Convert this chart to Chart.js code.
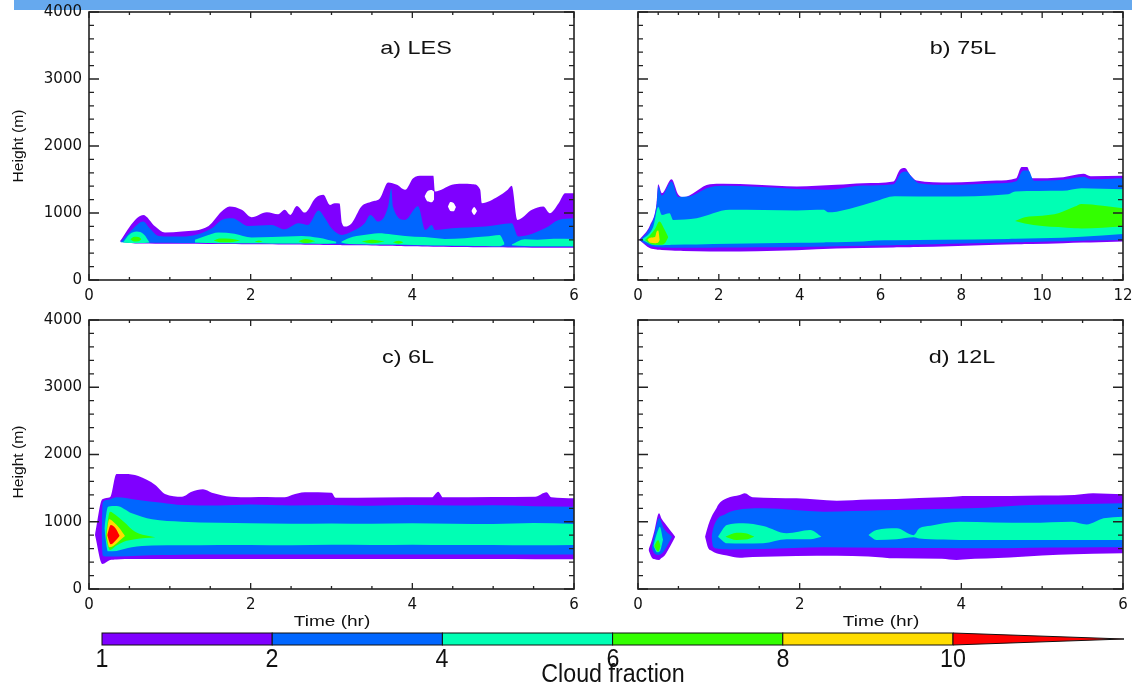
<!DOCTYPE html>
<html>
<head>
<meta charset="utf-8">
<script src="https://cdn.jsdelivr.net/npm/chart.js@4.4.1/dist/chart.umd.min.js"></script>
<style>
  html, body { margin: 0; padding: 0; background: #fff; overflow: hidden; }
  #page { position: relative; width: 1138px; height: 683px; font-family: "Liberation Sans", Arial, sans-serif; color: #111; }
  #topbar { position: absolute; left: 14px; top: 0; width: 1118px; height: 10px; background: #66a9ee; }
  canvas { position: absolute; }
  .txt { position: absolute; white-space: nowrap; line-height: 1; }
  .title { font-size: 18px; transform: translate(-50%, -50%) scaleX(1.3); }
  .ylab { font-size: 14px; transform: translate(-50%, -50%) rotate(-90deg) scaleX(1.12); }
  .xlab { font-size: 15px; transform: translate(-50%, -50%) scaleX(1.27); }
  .cblab { font-size: 25px; transform: translate(-50%, -50%) scaleX(0.93); }
  #cbar { position: absolute; left: 0; top: 0; }
</style>
</head>
<body>
<div id="page">
  <div id="topbar"></div>
  <canvas id="lesChart" width="600" height="310" style="left:0;top:0"></canvas>
  <canvas id="l75Chart" width="590" height="310" style="left:549px;top:0"></canvas>
  <canvas id="l6Chart" width="600" height="311" style="left:0;top:308px"></canvas>
  <canvas id="l12Chart" width="590" height="311" style="left:549px;top:308px"></canvas>
  <svg id="cbar" width="1138" height="683"></svg>
  <div class="txt title" style="left:416px;top:48px">a) LES</div>
  <div class="txt title" style="left:963px;top:48px">b) 75L</div>
  <div class="txt title" style="left:408px;top:357px">c) 6L</div>
  <div class="txt title" style="left:962px;top:357px">d) 12L</div>
  <div class="txt ylab" style="left:18px;top:146px">Height (m)</div>
  <div class="txt ylab" style="left:18px;top:462px">Height (m)</div>
  <div class="txt xlab" style="left:332px;top:620px">Time (hr)</div>
  <div class="txt xlab" style="left:881px;top:620px">Time (hr)</div>
  <div id="cblabels"></div>
  <div class="txt cblab" style="left:613px;top:673px">Cloud fraction</div>
</div>
<script>
// contour level colours (cloud fraction 1, 2, 4, 6, 8, 10)
var PURPLE = '#7f00ff', BLUE = '#0066ff', CYAN = '#00ffb4', GREEN = '#33ff00', YELLOW = '#ffdd00', RED = '#ff0000';

var cbLevels = [1, 2, 4, 6, 8, 10];
var cbColors = [PURPLE, BLUE, CYAN, GREEN, YELLOW, RED];

// ---------- a) LES : time (hr), upper / lower contour heights (m) ----------
var lesPurpleT = [0.38, 0.57, 0.67, 0.82, 0.94, 1.15, 1.48, 1.64, 1.74, 1.89, 2.01, 2.20, 2.34, 2.42, 2.49, 2.57, 2.67, 2.80, 2.90, 2.98, 3.04, 3.10, 3.13, 3.17, 3.25, 3.37, 3.50, 3.60, 3.70, 3.81, 3.91, 4.01, 4.12, 4.26, 4.28, 4.49, 4.61, 4.75, 4.84, 4.86, 5.06, 5.18, 5.23, 5.30, 5.48, 5.62, 5.70, 5.81, 5.89, 6.0];
var lesPurpleTop = [573, 897, 972, 797, 708, 723, 807, 1021, 1096, 1047, 937, 1012, 982, 1047, 972, 1106, 1006, 1221, 1271, 1121, 1146, 1140, 847, 797, 847, 1096, 1171, 1221, 1455, 1420, 1346, 1520, 1555, 1555, 1320, 1420, 1435, 1430, 1346, 1146, 1246, 1346, 1405, 897, 1047, 1096, 997, 1146, 1296, 1296];
var lesPurpleBot = [573, 545, 543, 542, 541, 540, 538, 537, 536, 535, 534, 532, 531, 530, 529, 528, 527, 525, 524, 523, 522, 521, 520, 520, 519, 517, 515, 513, 510, 508, 505, 502, 500, 497, 497, 494, 492, 490, 489, 489, 487, 486, 485, 484, 483, 482, 482, 481, 481, 480];

var lesHole1T = [4.15, 4.19, 4.24, 4.27], lesHole1Top = [1250, 1330, 1345, 1320], lesHole1Bot = [1250, 1170, 1160, 1200];
var lesHole2T = [4.44, 4.47, 4.51, 4.54], lesHole2Top = [1095, 1165, 1150, 1090], lesHole2Bot = [1095, 1030, 1025, 1090];
var lesHole3T = [4.73, 4.765, 4.80], lesHole3Top = [1030, 1090, 1030], lesHole3Bot = [1030, 970, 1030];

var lesBlueT = [0.39, 0.53, 0.67, 0.75, 0.86, 1.15, 1.52, 1.64, 1.77, 1.97, 2.26, 2.42, 2.59, 2.71, 2.84, 2.92, 3.00, 3.13, 3.25, 3.41, 3.48, 3.58, 3.70, 3.74, 3.76, 3.91, 4.07, 4.16, 4.24, 4.28, 4.49, 4.90, 5.23, 5.31, 5.64, 5.81, 6.0];
var lesBlueTop = [565, 747, 872, 772, 658, 648, 772, 897, 922, 807, 822, 757, 847, 822, 1036, 922, 772, 673, 723, 847, 972, 872, 1096, 1371, 1096, 897, 1100, 747, 822, 747, 772, 797, 847, 648, 772, 897, 922];
var lesBlueBot = [565, 558, 557, 556, 555, 554, 552, 551, 550, 548, 546, 545, 543, 542, 540, 539, 538, 535, 534, 531, 530, 528, 525, 524, 524, 520, 516, 514, 512, 511, 508, 503, 499, 498, 497, 496, 495];

var lesCyan1T = [0.42, 0.50, 0.59, 0.68, 0.75], lesCyan1Top = [560, 680, 723, 680, 560], lesCyan1Bot = [560, 552, 550, 552, 560];
var lesCyan2T = [1.31, 1.45, 1.60, 1.80, 2.01, 2.26, 2.45, 2.63, 2.84, 3.06];
var lesCyan2Top = [600, 660, 708, 690, 633, 640, 650, 658, 630, 570];
var lesCyan2Bot = [560, 552, 550, 550, 548, 546, 545, 543, 541, 550];
var lesCyan3T = [3.12, 3.22, 3.40, 3.58, 3.75, 3.91, 4.15, 4.40, 4.65, 4.90, 5.08, 5.14];
var lesCyan3Top = [570, 628, 670, 698, 680, 658, 640, 613, 625, 648, 673, 550];
var lesCyan3Bot = [560, 538, 535, 530, 528, 525, 520, 516, 512, 508, 505, 530];
var lesCyan4T = [5.23, 5.39, 5.55, 5.75, 6.0], lesCyan4Top = [530, 608, 600, 615, 613], lesCyan4Bot = [520, 508, 505, 504, 503];

var lesGreen1T = [0.51, 0.56, 0.61, 0.65], lesGreen1Top = [610, 645, 640, 610], lesGreen1Bot = [610, 575, 578, 610];
var lesGreen2T = [1.54, 1.62, 1.75, 1.87], lesGreen2Top = [590, 620, 615, 590], lesGreen2Bot = [590, 565, 565, 590];
var lesGreen3T = [2.05, 2.10, 2.15], lesGreen3Top = [575, 590, 575], lesGreen3Bot = [575, 562, 575];
var lesGreen4T = [2.59, 2.68, 2.80], lesGreen4Top = [580, 613, 580], lesGreen4Bot = [580, 552, 580];
var lesGreen5T = [3.37, 3.50, 3.66], lesGreen5Top = [575, 600, 575], lesGreen5Bot = [575, 548, 575];
var lesGreen6T = [3.76, 3.83, 3.89], lesGreen6Top = [565, 585, 565], lesGreen6Bot = [565, 542, 565];

// ---------- b) 75L ----------
var l75PurpleT = [0.03, 0.30, 0.46, 0.50, 0.59, 0.83, 1.00, 1.12, 1.78, 2.11, 2.94, 3.93, 4.91, 5.57, 6.32, 6.48, 6.60, 6.73, 6.89, 7.72, 8.87, 9.36, 9.49, 9.63, 9.74, 10.52, 11.02, 11.20, 12.0];
var l75PurpleTop = [598, 822, 1146, 1430, 1296, 1505, 1271, 1236, 1430, 1435, 1420, 1395, 1420, 1445, 1470, 1645, 1670, 1570, 1485, 1455, 1485, 1520, 1685, 1685, 1520, 1535, 1585, 1550, 1555];
var l75PurpleBot = [598, 474, 455, 450, 448, 440, 435, 432, 426, 424, 430, 445, 470, 478, 485, 487, 488, 490, 492, 505, 525, 532, 534, 536, 538, 550, 558, 561, 573];

var l75BlueT = [0.05, 0.30, 0.46, 0.50, 0.59, 0.83, 1.00, 1.24, 1.78, 2.19, 2.94, 3.93, 4.67, 5.57, 6.32, 6.52, 6.64, 6.78, 6.95, 7.72, 8.87, 9.36, 9.53, 9.66, 9.80, 10.52, 11.02, 11.20, 12.0];
var l75BlueTop = [590, 797, 1120, 1395, 1260, 1470, 1240, 1246, 1386, 1405, 1390, 1360, 1346, 1410, 1430, 1605, 1620, 1530, 1445, 1420, 1445, 1475, 1635, 1635, 1480, 1495, 1540, 1505, 1520];
var l75BlueBot = [590, 508, 492, 488, 486, 483, 482, 481, 482, 484, 488, 494, 500, 510, 520, 522, 524, 526, 528, 540, 556, 563, 565, 567, 569, 578, 585, 588, 598];

var l75CyanT = [0.10, 0.38, 0.50, 0.59, 0.78, 0.87, 1.45, 2.27, 3.93, 4.60, 4.70, 5.57, 5.86, 6.35, 7.51, 9.16, 9.33, 10.5, 10.97, 12.0];
var l75CyanTop = [600, 797, 1090, 972, 997, 897, 922, 1047, 1036, 1047, 1010, 1121, 1171, 1250, 1246, 1281, 1321, 1331, 1371, 1356];
var l75CyanBot = [600, 523, 520, 520, 522, 525, 530, 540, 555, 560, 562, 575, 590, 595, 600, 612, 615, 630, 645, 688];

var l75Green1T = [0.17, 0.30, 0.42, 0.53, 0.65, 0.75], l75Green1Top = [598, 672, 760, 872, 760, 638], l75Green1Bot = [598, 540, 525, 523, 540, 638];
var l75Green2T = [9.33, 9.57, 10.0, 10.4, 10.81, 10.97, 11.5, 12.0];
var l75Green2Top = [880, 937, 960, 997, 1096, 1136, 1110, 1072];
var l75Green2Bot = [880, 845, 807, 790, 772, 770, 780, 797];
var l75YellowT = [0.23, 0.30, 0.42, 0.46, 0.50, 0.54], l75YellowTop = [600, 630, 640, 720, 737, 600], l75YellowBot = [600, 555, 549, 552, 560, 600];

// ---------- c) 6L ----------
var l6PurpleT = [0.074, 0.165, 0.26, 0.34, 0.445, 0.61, 0.82, 0.94, 1.15, 1.27, 1.41, 1.52, 1.76, 2.0, 2.2, 2.42, 2.51, 2.67, 3.00, 3.05, 3.6, 4.24, 4.32, 4.38, 5.0, 5.52, 5.66, 5.72, 6.0];
var l6PurpleTop = [803, 1334, 1364, 1710, 1710, 1680, 1547, 1413, 1373, 1447, 1482, 1432, 1373, 1365, 1368, 1363, 1397, 1438, 1432, 1358, 1362, 1363, 1447, 1363, 1368, 1373, 1438, 1363, 1348];
var l6PurpleBot = [803, 372, 431, 440, 446, 446, 446, 446, 446, 446, 446, 446, 446, 446, 446, 446, 446, 446, 446, 446, 446, 446, 446, 446, 445, 444, 443, 443, 441];

var l6BlueT = [0.155, 0.17, 0.23, 0.34, 0.61, 0.90, 1.15, 1.6, 2.0, 2.5, 3.0, 3.5, 4.0, 4.5, 5.0, 5.5, 6.0];
var l6BlueTop = [820, 1290, 1323, 1364, 1324, 1283, 1249, 1240, 1255, 1240, 1250, 1238, 1248, 1240, 1245, 1232, 1224];
var l6BlueBot = [820, 500, 482, 483, 496, 505, 511, 513, 512, 514, 512, 513, 512, 513, 512, 513, 513];

var l6CyanT = [0.19, 0.235, 0.34, 0.53, 0.78, 1.15, 1.6, 2.0, 2.5, 3.0, 3.5, 4.0, 4.5, 5.0, 5.5, 6.0];
var l6CyanTop = [900, 1224, 1234, 1126, 1036, 1001, 985, 977, 970, 975, 970, 978, 972, 968, 980, 967];
var l6CyanBot = [900, 560, 566, 620, 645, 650, 654, 656, 652, 657, 654, 658, 653, 656, 652, 655];

var l6GreenT = [0.205, 0.26, 0.33, 0.43, 0.57, 0.82], l6GreenTop = [778, 1150, 1100, 1001, 852, 769], l6GreenBot = [778, 580, 640, 704, 740, 769];
var l6YellowT = [0.215, 0.25, 0.30, 0.38, 0.445], l6YellowTop = [803, 1036, 1000, 900, 788], l6YellowBot = [803, 620, 640, 720, 788];
var l6RedT = [0.225, 0.27, 0.33, 0.38], l6RedTop = [800, 952, 900, 790], l6RedBot = [800, 664, 720, 790];

// ---------- d) 12L ----------
var l12Purple1T = [0.13, 0.17, 0.20, 0.26, 0.29, 0.33, 0.40, 0.46];
var l12Purple1Top = [580, 720, 850, 1125, 1050, 980, 870, 778];
var l12Purple1Bot = [580, 470, 445, 431, 460, 500, 640, 778];
var l12Blue1T = [0.17, 0.21, 0.26, 0.32, 0.42], l12Blue1Top = [610, 850, 1051, 900, 778], l12Blue1Bot = [610, 520, 506, 560, 778];
var l12Cyan1T = [0.19, 0.24, 0.27, 0.31], l12Cyan1Top = [644, 850, 927, 733], l12Cyan1Bot = [644, 545, 560, 733];
var l12Green1T = [0.20, 0.25, 0.28], l12Green1Top = [640, 729, 640], l12Green1Bot = [640, 555, 640];

var l12Purple2T = [0.83, 0.87, 0.91, 0.97, 0.99, 1.10, 1.26, 1.32, 1.42, 1.96, 2.46, 2.85, 3.20, 3.76, 3.94, 4.02, 4.6, 5.0, 5.4, 5.63, 6.0];
var l12Purple2Top = [778, 950, 1076, 1200, 1249, 1348, 1398, 1423, 1363, 1348, 1313, 1330, 1340, 1363, 1375, 1383, 1383, 1390, 1398, 1423, 1408];
var l12Purple2Bot = [778, 605, 570, 531, 525, 500, 466, 470, 475, 491, 495, 485, 456, 450, 431, 440, 470, 500, 515, 525, 531];
var l12Blue2T = [0.91, 0.93, 0.99, 1.06, 1.14, 1.55, 2.30, 3.0, 3.7, 4.3, 4.85, 5.4, 6.0];
var l12Blue2Top = [778, 900, 1051, 1100, 1150, 1199, 1150, 1170, 1190, 1210, 1249, 1260, 1274];
var l12Blue2Bot = [778, 629, 600, 590, 588, 595, 620, 615, 610, 605, 615, 618, 620];
var l12Cyan2T = [0.99, 1.10, 1.30, 1.55, 1.84, 2.13, 2.27], l12Cyan2Top = [778, 952, 977, 937, 828, 877, 778], l12Cyan2Bot = [778, 679, 675, 680, 739, 740, 778];
var l12Green2T = [1.08, 1.22, 1.33, 1.44], l12Green2Top = [778, 838, 830, 778], l12Green2Bot = [778, 729, 735, 778];
var l12Cyan3T = [2.85, 2.95, 3.20, 3.41, 3.48, 3.62, 3.78, 3.98, 4.4, 4.85, 5.37, 5.55, 5.76, 6.0];
var l12Cyan3Top = [803, 877, 902, 800, 902, 940, 977, 1001, 990, 985, 1001, 960, 1051, 1076];
var l12Cyan3Bot = [803, 729, 740, 768, 750, 740, 735, 729, 730, 728, 730, 729, 729, 729];

// ---------- helpers ----------
var tickFont = { family: 'DejaVu Sans', size: 15 };

// one filled contour band = upper line filled down to its lower line
function band(ts, tops, bots, color, order) {
    var common = { pointRadius: 0, borderWidth: 0, borderColor: 'transparent', cubicInterpolationMode: 'monotone', order: order };
    return [
        Object.assign({ data: ts.map(function (t, i) { return { x: t, y: tops[i] }; }), backgroundColor: color, fill: '+1' }, common),
        Object.assign({ data: ts.map(function (t, i) { return { x: t, y: bots[i] }; }), fill: false }, common)
    ];
}

// frame + inward tick marks on all four sides
var frameTicks = {
    id: 'frameTicks',
    afterDraw: function (chart) {
        var ctx = chart.ctx, a = chart.chartArea, sx = chart.scales.x, sy = chart.scales.y;
        ctx.save();
        ctx.strokeStyle = '#222';
        ctx.lineWidth = 1.6;
        ctx.strokeRect(a.left, a.top, a.right - a.left, a.bottom - a.top);
        ctx.lineWidth = 1.3;
        ctx.beginPath();
        sx.ticks.forEach(function (t) {
            var px = sx.getPixelForValue(t.value), len = t.value % 2 === 0 ? 6 : 3;
            ctx.moveTo(px, a.bottom); ctx.lineTo(px, a.bottom - len);
            ctx.moveTo(px, a.top); ctx.lineTo(px, a.top + len);
        });
        sy.ticks.forEach(function (t) {
            var py = sy.getPixelForValue(t.value), len = t.value % 1000 === 0 ? 10 : 5;
            ctx.moveTo(a.left, py); ctx.lineTo(a.left + len, py);
            ctx.moveTo(a.right, py); ctx.lineTo(a.right - len, py);
        });
        ctx.stroke();
        ctx.restore();
    }
};

function makePanel(id, xMax, showY, rightPad, bands) {
    var datasets = [];
    bands.forEach(function (b) { datasets = datasets.concat(band(b[0], b[1], b[2], b[3], b[4])); });
    return new Chart(document.getElementById(id), {
        type: 'line',
        data: { datasets: datasets },
        options: {
            responsive: false,
            animation: false,
            devicePixelRatio: 1,
            layout: { padding: { top: 12, right: rightPad, left: 0, bottom: 0 } },
            plugins: { legend: { display: false }, tooltip: { enabled: false } },
            scales: {
                x: {
                    type: 'linear', min: 0, max: xMax,
                    afterFit: function (s) { s.height = 30; s.paddingLeft = 0; s.paddingRight = 0; },
                    grid: { display: false, drawTicks: false },
                    border: { display: false },
                    ticks: {
                        stepSize: 0.5, autoSkip: false, maxRotation: 0, padding: 7,
                        font: tickFont, color: '#111',
                        callback: function (v) { return v % 2 === 0 ? String(v) : ''; }
                    }
                },
                y: {
                    type: 'linear', min: 0, max: 4000,
                    afterFit: function (s) { s.width = 89; s.paddingTop = 0; s.paddingBottom = 0; },
                    grid: { display: false, drawTicks: false },
                    border: { display: false },
                    ticks: {
                        display: showY, stepSize: 200, autoSkip: false, padding: 7,
                        font: tickFont, color: '#111',
                        callback: function (v) { return v % 1000 === 0 ? String(v) : ''; }
                    }
                }
            }
        },
        plugins: [frameTicks]
    });
}

var WHITE = '#ffffff';

makePanel('lesChart', 6, true, 26, [
    [lesPurpleT, lesPurpleTop, lesPurpleBot, PURPLE, 10],
    [lesHole1T, lesHole1Top, lesHole1Bot, WHITE, 9],
    [lesHole2T, lesHole2Top, lesHole2Bot, WHITE, 9],
    [lesHole3T, lesHole3Top, lesHole3Bot, WHITE, 9],
    [lesBlueT, lesBlueTop, lesBlueBot, BLUE, 8],
    [lesCyan1T, lesCyan1Top, lesCyan1Bot, CYAN, 6],
    [lesCyan2T, lesCyan2Top, lesCyan2Bot, CYAN, 6],
    [lesCyan3T, lesCyan3Top, lesCyan3Bot, CYAN, 6],
    [lesCyan4T, lesCyan4Top, lesCyan4Bot, CYAN, 6],
    [lesGreen1T, lesGreen1Top, lesGreen1Bot, GREEN, 4],
    [lesGreen2T, lesGreen2Top, lesGreen2Bot, GREEN, 4],
    [lesGreen3T, lesGreen3Top, lesGreen3Bot, GREEN, 4],
    [lesGreen4T, lesGreen4Top, lesGreen4Bot, GREEN, 4],
    [lesGreen5T, lesGreen5Top, lesGreen5Bot, GREEN, 4],
    [lesGreen6T, lesGreen6Top, lesGreen6Bot, GREEN, 4]
]);

makePanel('l75Chart', 12, false, 16, [
    [l75PurpleT, l75PurpleTop, l75PurpleBot, PURPLE, 10],
    [l75BlueT, l75BlueTop, l75BlueBot, BLUE, 8],
    [l75CyanT, l75CyanTop, l75CyanBot, CYAN, 6],
    [l75Green1T, l75Green1Top, l75Green1Bot, GREEN, 4],
    [l75Green2T, l75Green2Top, l75Green2Bot, GREEN, 4],
    [l75YellowT, l75YellowTop, l75YellowBot, YELLOW, 2]
]);

makePanel('l6Chart', 6, true, 26, [
    [l6PurpleT, l6PurpleTop, l6PurpleBot, PURPLE, 10],
    [l6BlueT, l6BlueTop, l6BlueBot, BLUE, 8],
    [l6CyanT, l6CyanTop, l6CyanBot, CYAN, 6],
    [l6GreenT, l6GreenTop, l6GreenBot, GREEN, 4],
    [l6YellowT, l6YellowTop, l6YellowBot, YELLOW, 2],
    [l6RedT, l6RedTop, l6RedBot, RED, 1]
]);

makePanel('l12Chart', 6, false, 16, [
    [l12Purple1T, l12Purple1Top, l12Purple1Bot, PURPLE, 10],
    [l12Purple2T, l12Purple2Top, l12Purple2Bot, PURPLE, 10],
    [l12Blue1T, l12Blue1Top, l12Blue1Bot, BLUE, 8],
    [l12Blue2T, l12Blue2Top, l12Blue2Bot, BLUE, 8],
    [l12Cyan1T, l12Cyan1Top, l12Cyan1Bot, CYAN, 6],
    [l12Cyan2T, l12Cyan2Top, l12Cyan2Bot, CYAN, 6],
    [l12Cyan3T, l12Cyan3Top, l12Cyan3Bot, CYAN, 6],
    [l12Green1T, l12Green1Top, l12Green1Bot, GREEN, 4],
    [l12Green2T, l12Green2Top, l12Green2Bot, GREEN, 4]
]);

// ---------- colour bar ----------
(function () {
    var svg = document.getElementById('cbar');
    var NS = 'http://www.w3.org/2000/svg';
    var x0 = 102, segW = 170.2, y0 = 633, h = 12, tipX = 1124;
    var html = '';
    for (var i = 0; i < cbLevels.length - 1; i++) {
        var r = document.createElementNS(NS, 'rect');
        r.setAttribute('x', x0 + i * segW); r.setAttribute('y', y0);
        r.setAttribute('width', segW); r.setAttribute('height', h);
        r.setAttribute('fill', cbColors[i]); r.setAttribute('stroke', '#111'); r.setAttribute('stroke-width', '1');
        svg.appendChild(r);
    }
    var xl = x0 + (cbLevels.length - 1) * segW;
    var p = document.createElementNS(NS, 'polygon');
    p.setAttribute('points', xl + ',' + y0 + ' ' + xl + ',' + (y0 + h) + ' ' + tipX + ',' + (y0 + h / 2));
    p.setAttribute('fill', cbColors[cbColors.length - 1]); p.setAttribute('stroke', '#111'); p.setAttribute('stroke-width', '1');
    svg.appendChild(p);
    cbLevels.forEach(function (lv, i) {
        html += '<div class="txt cblab" style="left:' + (x0 + i * segW) + 'px;top:658px">' + lv + '</div>';
    });
    document.getElementById('cblabels').innerHTML = html;
})();
</script>
</body>
</html>
